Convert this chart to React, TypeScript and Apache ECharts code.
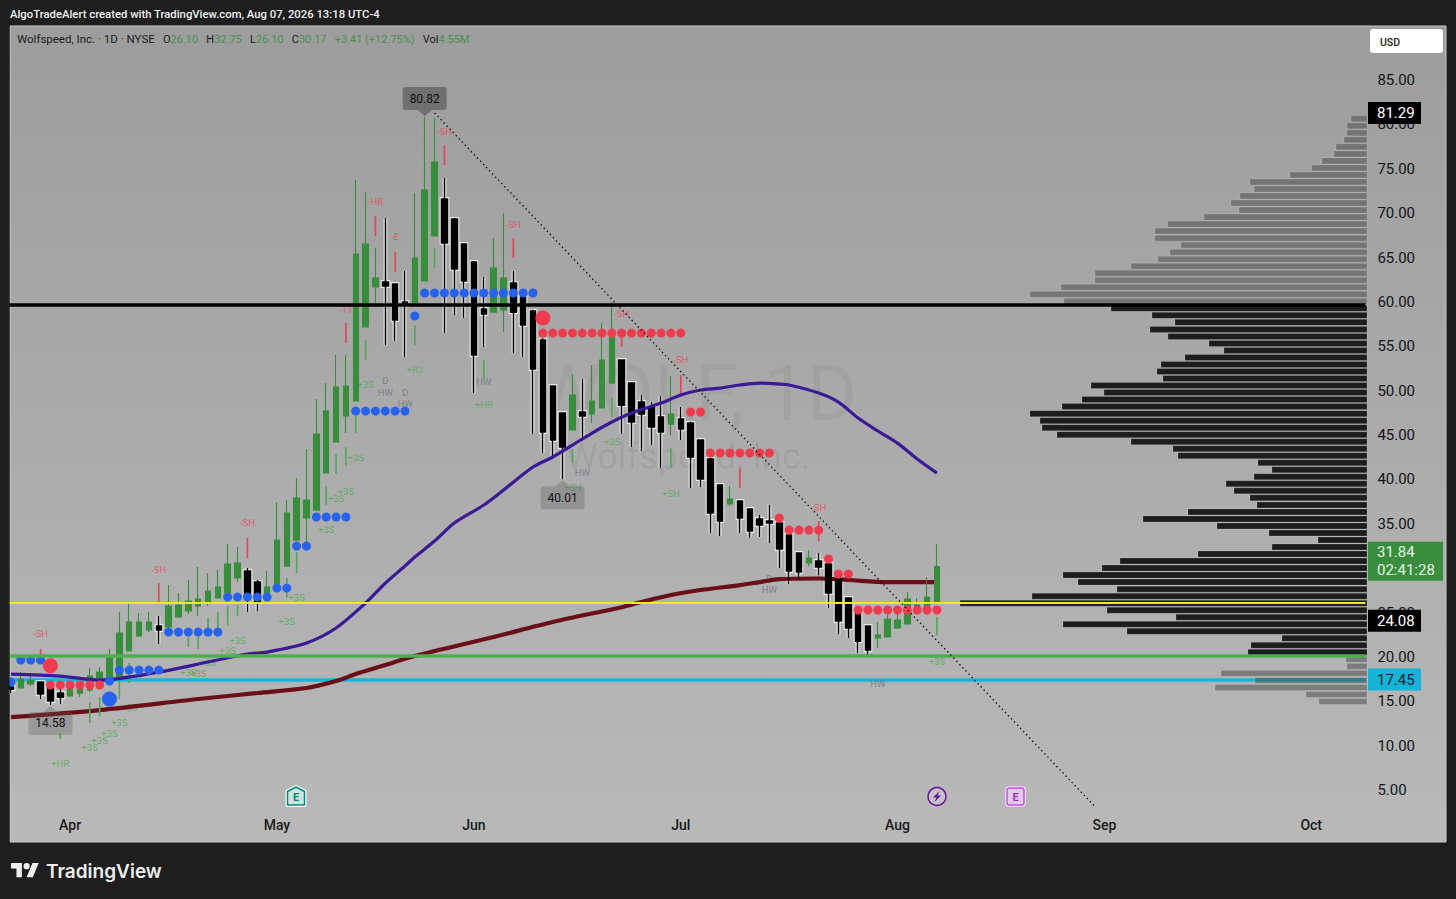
import React, { useEffect, useRef } from "react";
import * as echarts from "echarts";

// ---- categories (trading-day slots) and month ticks ----
const SLOT_COUNT = 138;
const monthTicks: Record<number, string> = { 6: "Apr", 27: "May", 47: "Jun", 68: "Jul", 90: "Aug", 111: "Sep", 132: "Oct" };
const categories = Array.from({ length: SLOT_COUNT }, (_, i) => monthTicks[i] ?? "");

// ---- daily candles: open, close, low, high ----
const candles: number[][] = [
  [16.6, 16.37, 15.92, 17.05], [16.49, 17.5, 16.49, 18.29], [16.94, 17.39, 16.71, 18.17], [17.16, 15.81, 15.25, 17.2], [16.6, 15.02, 14.58, 16.65],
  [15.92, 15.47, 14.7, 16.49], [15.59, 16.6, 15.5, 17.05], [15.92, 16.6, 15.47, 17.05], [16.26, 17.84, 16.04, 18.74], [16.94, 18.29, 16.71, 18.85],
  [17.61, 19.87, 17.39, 20.88], [17.73, 22.69, 17.6, 25.05], [20.66, 23.93, 20.66, 25.95], [22.35, 23.93, 22.24, 24.94], [23.03, 23.93, 22.8, 25.05],
  [23.47, 23.03, 21.45, 24.6], [23.36, 25.73, 23.25, 28.09], [24.49, 25.84, 24.38, 27.19], [25.17, 26.29, 24.83, 28.66], [25.73, 26.52, 24.6, 30.12],
  [26.18, 27.42, 25.73, 29.45], [26.63, 27.87, 26.63, 29.78], [27.19, 30.46, 26.97, 32.71], [28.88, 30.57, 28.43, 32.37], [29.67, 26.74, 25.05, 30.01],
  [28.43, 26.18, 25.17, 28.66], [27.19, 27.87, 26.4, 29.67], [27.53, 33.16, 27.3, 37.45], [30.23, 36.21, 30.23, 37.67], [33.16, 37.9, 33.1, 40.15],
  [35.64, 37.67, 32.37, 43.42], [36.54, 45.11, 36.4, 49.05], [40.71, 47.7, 40.7, 50.85], [44.21, 50.4, 44.2, 54.01], [47.14, 50.52, 45.22, 54.01],
  [48.83, 65.39, 48.8, 73.73], [57.17, 66.52, 57.1, 72.38], [61.67, 62.69, 59.87, 66.07], [62.24, 61.79, 55.13, 69.45], [62.01, 57.95, 55.59, 62.1],
  [59.98, 59.65, 53.79, 63.48], [59.87, 64.94, 59.5, 72.26], [62.35, 72.6, 62.3, 80.82], [67.42, 75.76, 67.4, 80.72], [71.59, 66.63, 56.49, 73.95],
  [69.33, 63.7, 58.52, 69.45], [66.52, 62.35, 58.18, 66.6], [64.49, 54.01, 49.73, 64.6], [59.19, 58.63, 54.91, 62.8], [58.85, 63.81, 58.8, 67.19],
  [59.08, 62.69, 56.6, 70.01], [62.13, 58.85, 54.24, 63.48], [60.55, 57.39, 53.79, 60.77], [58.97, 52.43, 45.11, 59.1], [55.7, 45.33, 42.97, 55.9],
  [50.52, 44.43, 42.29, 50.6], [47.47, 43.64, 40.01, 47.5], [45.56, 49.5, 45.5, 51.87], [47.59, 47.14, 44.66, 51.3], [47.36, 48.83, 46.35, 52.88],
  [48.04, 53.45, 48.0, 57.62], [50.85, 56.26, 50.8, 59.98], [53.45, 48.37, 45.11, 53.5], [50.85, 46.46, 43.64, 50.9], [48.71, 47.36, 43.19, 49.5],
  [48.15, 45.9, 43.87, 48.71], [47.02, 45.33, 41.27, 49.39], [46.23, 47.36, 45.0, 51.64], [46.8, 45.67, 44.43, 48.15], [46.35, 42.52, 39.02, 46.5],
  [44.43, 40.04, 39.14, 44.5], [42.29, 36.21, 33.95, 42.4], [39.36, 35.31, 33.62, 39.4], [37.22, 37.78, 36.99, 39.25], [37.56, 35.64, 33.95, 37.6],
  [36.66, 34.18, 33.39, 36.7], [35.53, 34.86, 33.5, 35.98], [35.3, 35.08, 32.82, 37.11], [35.08, 32.15, 30.01, 35.1], [33.73, 29.67, 28.2, 33.8],
  [31.7, 29.56, 28.77, 31.8], [30.57, 31.14, 30.23, 32.04], [30.8, 30.12, 29.22, 31.7], [30.46, 27.19, 25.5, 30.5], [28.77, 24.04, 22.57, 28.8],
  [26.63, 23.25, 22.12, 26.7], [24.94, 21.78, 20.43, 25.0], [23.47, 20.77, 20.21, 23.5], [22.12, 22.46, 20.99, 23.93], [22.24, 24.26, 22.2, 24.71],
  [23.25, 24.15, 23.14, 25.28], [23.7, 26.52, 23.7, 27.31], [24.94, 25.84, 24.9, 26.63], [25.05, 26.74, 25.0, 28.99], [26.1, 30.17, 26.1, 32.75],
];

// ---- moving averages: [day, price] ----
const purpleMA: number[][] = [
  [0, 18.06], [5, 17.84], [9, 17.39], [15, 18.29], [20, 19.42], [24, 20.32], [26, 20.54], [30, 21.56], [33, 23.25], [36, 26.07], [38, 28.3], [40, 30.24],
  [41, 31.25], [43, 33.05], [45, 35.08], [48, 37.11], [50, 38.8], [53, 41.39], [55, 42.52], [57, 43.87], [59, 45.22], [61, 46.46], [63, 47.47], [66, 48.6],
  [68, 49.5], [70, 50.07], [72, 50.29], [74, 50.63], [76, 50.85], [78, 50.74], [79, 50.63], [82, 49.73], [84, 48.71], [86, 46.91], [88, 45.45],
  [90, 44.09], [92, 42.29], [94, 40.71],
];
const maroonMA: number[][] = [
  [0, 13.22], [9, 14.01], [19, 15.25], [25, 15.93], [30, 16.49], [33, 17.27], [35, 18.06], [38, 19.08], [41, 20.09], [49, 22.24], [55, 23.93], [62, 25.6],
  [64, 26.18], [67, 26.97], [70, 27.53], [74, 28.09], [76, 28.43], [78, 28.77], [82, 28.83], [85, 28.66], [89, 28.43], [94, 28.43],
];
const trendLine: number[][] = [[43, 81.29], [110, 3.19]];

// ---- horizontal levels ----
const levelBlack = 59.7;
const levelYellow = 26.07;
const levelGreen = 20.1;
const levelCyan = 17.45;

// ---- trailing stop dots: price and the days they sit on ----
const blueDots: [number, number[]][] = [
  [19.64, [1, 2, 3]], [17.16, [0]], [17.27, [10]], [18.51, [11, 12, 13, 14, 15]], [22.8, [16, 17, 18, 19, 20, 21]],
  [26.74, [22, 23, 24, 25, 26]], [27.75, [27, 28]], [32.49, [29, 30]], [35.76, [31, 32, 33, 34]], [47.7, [35, 36, 37, 38, 39, 40]],
  [58.41, [41]], [61.0, [42, 43, 44, 45, 46, 47, 48, 49, 50, 51, 52, 53]],
];
const redDots: [number, number[]][] = [
  [16.83, [4, 5, 6, 7, 8, 9]], [56.49, [54, 55, 56, 57, 58, 59, 60, 61, 62, 63, 64, 65, 66, 67, 68]], [47.59, [69, 70]],
  [42.97, [71, 72, 73, 74, 75, 76, 77]], [35.65, [78]], [34.29, [79, 80, 81, 82]], [31.03, [83]], [29.34, [84, 85]],
  [25.28, [86, 87, 88, 89, 90, 91, 92, 93, 94]],
];
const bigBlueDots = [[10, 15.25]];
const bigRedDots = [[4, 19.0], [54, 58.18]];

// ---- signal ticks: day, upper price, lower price ----
const redTicks: number[][] = [
  [3, 20.88, 19.64], [15, 28.32, 26.18], [24, 33.39, 31.14], [34, 57.62, 55.36], [37, 69.67, 67.42], [39, 65.62, 63.36],
  [44, 77.67, 75.42], [51, 67.19, 64.94], [62, 56.49, 54.91], [68, 51.76, 49.62], [74, 41.28, 39.02], [82, 35.31, 33.05],
];
const greenTicks: number[][] = [
  [5, 11.42, 10.74], [8, 14.91, 12.55], [9, 15.47, 13.33], [11, 17.39, 15.25], [12, 19.31, 17.05], [18, 22.24, 21.11], [19, 22.24, 20.88],
  [20, 24.38, 22.8], [21, 25.05, 22.8], [22, 25.73, 23.47], [23, 25.84, 24.6], [28, 28.88, 26.63], [29, 31.81, 29.45], [32, 39.25, 37.11],
  [33, 42.86, 40.6], [34, 43.64, 41.5], [35, 47.14, 45.22], [36, 55.7, 53.45], [41, 57.39, 55.13], [43, 66.07, 63.81], [48, 53.45, 51.3],
  [57, 43.42, 41.84], [61, 49.28, 47.02], [67, 43.53, 41.28], [94, 24.49, 22.46],
];

// ---- signal texts: day, price, text ----
const redTexts: [number, number, string][] = [
  [3, 22.58, "-SH"], [15, 29.9, "-SH"], [24, 35.19, "-SH"], [34, 59.19, "-TT"], [37, 71.36, "-HR"], [39, 67.31, "-E"], [44, 79.25, "-SH"],
  [51, 68.77, "-SH"], [62, 58.74, "-SH"], [68, 53.56, "-SH"], [82, 36.88, "-SH"],
];
const greenTexts: [number, number, string][] = [
  [5, 8.04, "+HR"], [8, 9.84, "+3S"], [9, 10.63, "+3S"], [10, 11.31, "+3S"], [11, 12.55, "+3S"], [12, 14.35, "+3S"], [18, 18.29, "+3S"], [19, 18.18, "+3S"],
  [20, 19.42, "+3S"], [22, 20.77, "+3S"], [23, 21.9, "+3S"], [28, 23.93, "+3S"], [29, 26.74, "+3S"], [32, 34.4, "+3S"], [33, 37.9, "+3S"], [34, 38.68, "+3S"],
  [35, 42.52, "+3S"], [36, 50.74, "+3S"], [41, 52.43, "+R3"], [48, 48.49, "+HR"], [61, 44.32, "+3S"], [57, 39.14, "+SH"], [67, 38.46, "+SH"], [94, 19.53, "+3S"],
];
const grayTexts: [number, number, string][] = [
  [38, 51.19, "D"], [38, 49.84, "HW"], [40, 49.84, "D"], [40, 48.6, "HW"], [48, 51.08, "HW"], [58, 40.72, "HW"], [77, 28.88, "D"], [77, 27.64, "HW"], [88, 17.05, "HW"],
];

// ---- swing high / low call-outs ----
const extremes: { day: number; price: number; text: string; above: boolean }[] = [
  { day: 42, price: 80.82, text: "80.82", above: true },
  { day: 56, price: 40.01, text: "40.01", above: false },
  { day: 4, price: 14.58, text: "14.58", above: false },
];

// ---- visible-range volume profile, top row first ----
const profileTopPrice = 80.63;
const profileRowStep = 0.791;
const profileUpper = [16, 20, 20, 23, 31, 33, 45, 55, 77, 117, 113, 127, 136, 128, 163, 199, 212, 212, 186, 197, 209, 236, 272, 272, 306, 337, 303];
const profileValueArea = [
  256, 215, 192, 217, 199, 158, 143, 182, 206, 210, 204, 276, 263, 285, 305, 337, 327, 325, 310, 236, 194, 189, 109, 95, 113, 141, 133, 117, 110,
  179, 224, 150, 98, 49, 95, 169, 247, 265, 304, 289, 250, 335, 407, 260, 191, 304, 240, 85, 116, 119,
];
const profileLower = [21, 20, 146, 112, 152, 61, 48];

// ---- price-scale tags ----
const priceTags: { value: number; lines: string[]; bg: string; fg: string; wide: boolean }[] = [
  { value: 81.29, lines: ["81.29"], bg: "#000000", fg: "#ffffff", wide: false },
  { value: 31.84, lines: ["31.84", "02:41:28"], bg: "#388e3c", fg: "#e8f5e9", wide: true },
  { value: 24.08, lines: ["24.08"], bg: "#000000", fg: "#ffffff", wide: false },
  { value: 17.45, lines: ["17.45"], bg: "#17b3d6", fg: "#10252b", wide: false },
];

const FONT = "Roboto, sans-serif";
const SLOT = 9.85;
const GRID_LEFT = 6.075;
const GRID_TOP = 35.625;
const PX_PER_PRICE = 8.875;
const PLOT_RIGHT = 1367;

const GREEN = "#388e3c";
const RED = "#ef3b4e";
const BLUE = "#2762ee";

const expand = (rows: [number, number[]][]) => rows.flatMap(([p, days]) => days.map((d) => [d, p]));
const asRows = (pick: (c: number[]) => boolean) =>
  candles.map((c, i) => [i, ...c]).filter((r) => pick(r.slice(1)));

function tickSeries(rows: number[][], color: string) {
  return {
    type: "custom",
    silent: true,
    z: 5,
    data: rows,
    renderItem: (_: any, api: any) => {
      const a = api.coord([api.value(0), api.value(1)]);
      const b = api.coord([api.value(0), api.value(2)]);
      return { type: "line", shape: { x1: a[0], y1: a[1], x2: b[0], y2: b[1] }, style: { stroke: color, lineWidth: 1.6 } };
    },
  };
}

function textSeries(rows: [number, number, string][], color: string) {
  return {
    type: "scatter",
    silent: true,
    z: 2.5,
    symbolSize: 1,
    itemStyle: { color: "rgba(0,0,0,0)" },
    data: rows.map((r) => ({ value: [r[0], r[1]], name: r[2] })),
    label: { show: true, position: "inside", formatter: "{b}", color, fontFamily: FONT, fontSize: 9.5 },
  };
}

function dotSeries(data: number[][], color: string, size: number) {
  return { type: "scatter", silent: true, z: 6, symbolSize: size, itemStyle: { color, opacity: 1 }, data };
}

function levelSeries(levels: [number, string, number][], z: number) {
  return {
    type: "line",
    silent: true,
    data: [],
    markLine: {
      silent: true,
      animation: false,
      symbol: "none",
      z,
      label: { show: false },
      data: levels.map(([yAxis, color, width]) => ({ yAxis, lineStyle: { color, width, type: "solid" } })),
    },
  };
}

const profileRows = [...profileUpper, ...profileValueArea, ...profileLower].map((vol, i) => [vol, profileTopPrice - i * profileRowStep, i]);

function buildOption() {
  const plotBg = new echarts.graphic.LinearGradient(0, 0, 0, 1, [
    { offset: 0, color: "#9d9d9d" },
    { offset: 1, color: "#b9b9b9" },
  ]);
  const gridWidth = SLOT * SLOT_COUNT;
  return {
    animation: false,
    backgroundColor: "#1e1e1e",
    grid: { left: GRID_LEFT, top: GRID_TOP, width: gridWidth, height: PX_PER_PRICE * 90, containLabel: false },
    xAxis: [
      {
        type: "category",
        data: categories,
        boundaryGap: true,
        axisLine: { show: false },
        axisTick: { show: false },
        splitLine: { show: false },
        axisLabel: { show: true, inside: true, interval: 0, margin: 2, color: "#1a1a1a", fontFamily: FONT, fontSize: 14, fontWeight: 500 },
      },
      { type: "value", show: false, min: 0, max: gridWidth, inverse: true, splitLine: { show: false } },
    ],
    yAxis: {
      type: "value",
      position: "right",
      min: 0,
      max: 90,
      interval: 5,
      axisLine: { show: false },
      axisTick: { show: false },
      splitLine: { show: false },
      axisLabel: {
        margin: 12,
        color: "#141414",
        fontFamily: FONT,
        fontSize: 15,
        formatter: (v: number) => (v < 5 || v > 85 ? "" : v.toFixed(2)),
      },
    },
    graphic: [
      { type: "rect", z: -1, silent: true, shape: { x: 10, y: 26, width: 1436, height: 816 }, style: { fill: plotBg, stroke: "#c9c9c9", lineWidth: 1 } },
      { type: "text", z: 0, silent: true, style: { x: 695, y: 394, text: "WOLF, 1D", align: "center", verticalAlign: "middle", fontFamily: FONT, fontSize: 77, fill: "rgba(0,0,0,0.045)" } },
      { type: "text", z: 0, silent: true, style: { x: 688, y: 457, text: "Wolfspeed, Inc.", align: "center", verticalAlign: "middle", fontFamily: FONT, fontSize: 36, fill: "rgba(0,0,0,0.06)" } },
      { type: "rect", z: 50, silent: true, shape: { x: 0, y: 0, width: 9.5, height: 899 }, style: { fill: "#1e1e1e" } },
      { type: "text", z: 60, silent: true, style: { x: 10, y: 14, text: "AlgoTradeAlert created with TradingView.com, Aug 07, 2026 13:18 UTC-4", verticalAlign: "middle", fontFamily: FONT, fontSize: 11.3, fontWeight: 500, fill: "#f0f0f0" } },
      {
        type: "text",
        z: 60,
        silent: true,
        style: {
          x: 17,
          y: 39,
          verticalAlign: "middle",
          fontFamily: FONT,
          fontSize: 11,
          text: "{n|Wolfspeed, Inc. · 1D · NYSE}   {k|O}{v|26.10}   {k|H}{v|32.75}   {k|L}{v|26.10}   {k|C}{v|30.17}   {v|+3.41 (+12.75%)}   {k|Vol}{v|4.55M}",
          rich: {
            n: { fill: "#1b1b1b", fontFamily: FONT, fontSize: 11.5 },
            k: { fill: "#1b1b1b", fontFamily: FONT, fontSize: 11 },
            v: { fill: "#4a8f4e", fontFamily: FONT, fontSize: 11 },
          },
        },
      },
      { type: "rect", z: 60, silent: true, shape: { x: 1370, y: 29, width: 73, height: 24, r: 3 }, style: { fill: "#ffffff" } },
      { type: "text", z: 61, silent: true, style: { x: 1380, y: 42, text: "USD", verticalAlign: "middle", fontFamily: FONT, fontSize: 10.5, fontWeight: 500, fill: "#222" } },
      { type: "polygon", z: 60, silent: true, shape: { points: [[296, 787], [304.5, 791.5], [304.5, 805], [287.5, 805], [287.5, 791.5]] }, style: { fill: "#d6e6e3", stroke: "#ffffff", lineWidth: 4, lineJoin: "round" } },
      { type: "polygon", z: 61, silent: true, shape: { points: [[296, 787], [304.5, 791.5], [304.5, 805], [287.5, 805], [287.5, 791.5]] }, style: { fill: "#cfe3df", stroke: "#00897b", lineWidth: 1.5, lineJoin: "round" } },
      { type: "text", z: 62, silent: true, style: { x: 296, y: 797, text: "E", align: "center", verticalAlign: "middle", fontFamily: FONT, fontSize: 11, fontWeight: 700, fill: "#00897b" } },
      { type: "circle", z: 60, silent: true, shape: { cx: 937, cy: 796.5, r: 10 }, style: { fill: "#ffffff" } },
      { type: "circle", z: 61, silent: true, shape: { cx: 937, cy: 796.5, r: 9 }, style: { fill: "#c7c0cc", stroke: "#5e1a8c", lineWidth: 1.6 } },
      { type: "polygon", z: 62, silent: true, shape: { points: [[939.5, 791], [933, 797.5], [936.5, 797.5], [934.5, 802], [941, 795.5], [937.5, 795.5]] }, style: { fill: "#5e1a8c" } },
      { type: "rect", z: 60, silent: true, shape: { x: 1005.5, y: 786.5, width: 20, height: 20, r: 3 }, style: { fill: "#ffffff" } },
      { type: "rect", z: 61, silent: true, shape: { x: 1007, y: 788, width: 17, height: 17, r: 2 }, style: { fill: "#e2cbe9", stroke: "#cf45ea", lineWidth: 1.5 } },
      { type: "text", z: 62, silent: true, style: { x: 1015.5, y: 797, text: "E", align: "center", verticalAlign: "middle", fontFamily: FONT, fontSize: 11, fontWeight: 700, fill: "#a32bc4" } },
      { type: "tvlogo", z: 60, silent: true, x: 11, y: 860, scaleX: 0.78, scaleY: 0.78, style: { fill: "#eeeeee" } },
      { type: "text", z: 60, silent: true, style: { x: 46, y: 871, text: "TradingView", verticalAlign: "middle", fontFamily: "Inter, sans-serif", fontSize: 19, fontWeight: 600, fill: "#eeeeee" } },
    ],
    series: [
      levelSeries([[levelCyan, "#17b6d8", 3.5]], 2),
      textSeries(redTexts, "#e8485a"),
      textSeries(greenTexts, "#4fa855"),
      textSeries(grayTexts, "#6d7480"),
      {
        type: "candlestick",
        silent: true,
        z: 3,
        barWidth: 6,
        encode: { x: 0, y: [1, 2, 3, 4] },
        itemStyle: { color: "#ffffff", color0: "#ffffff", borderColor: "#ffffff", borderColor0: "#ffffff", borderWidth: 3.6 },
        data: asRows((c) => c[1] < c[0]),
      },
      { type: "line", silent: true, z: 3.5, smooth: 0.3, showSymbol: false, lineStyle: { color: "#6a0f18", width: 4.2 }, data: maroonMA },
      {
        type: "candlestick",
        silent: true,
        z: 4,
        barWidth: 6,
        encode: { x: 0, y: [1, 2, 3, 4] },
        itemStyle: { color: "#000000", color0: "#000000", borderColor: "#000000", borderColor0: "#000000", borderWidth: 1.6 },
        data: asRows((c) => c[1] < c[0]),
      },
      {
        type: "candlestick",
        silent: true,
        z: 4,
        barWidth: 6,
        encode: { x: 0, y: [1, 2, 3, 4] },
        itemStyle: { color: GREEN, color0: GREEN, borderColor: GREEN, borderColor0: GREEN, borderWidth: 1.1 },
        data: asRows((c) => c[1] >= c[0]),
      },
      tickSeries(redTicks, "#e8405a"),
      tickSeries(greenTicks, "#4fa855"),
      { type: "line", silent: true, z: 5, smooth: 0.3, showSymbol: false, lineStyle: { color: "#3b1a96", width: 3.2 }, data: purpleMA },
      dotSeries(expand(blueDots), BLUE, 9),
      dotSeries(expand(redDots), RED, 9),
      dotSeries(bigBlueDots, BLUE, 15),
      dotSeries(bigRedDots, RED, 15),
      {
        type: "custom",
        silent: true,
        z: 6,
        xAxisIndex: 1,
        data: profileRows,
        renderItem: (_: any, api: any) => {
          const vol = api.value(0);
          const price = api.value(1);
          const row = api.value(2);
          const p = api.coord([vol, price]);
          const upperEnd = profileUpper.length;
          const lowerStart = upperEnd + profileValueArea.length;
          const dark = row >= upperEnd && row < lowerStart;
          return {
            type: "rect",
            shape: { x: PLOT_RIGHT - vol, y: p[1] - 3, width: vol, height: 6 },
            style: { fill: dark ? "rgba(24,24,24,0.97)" : "rgba(70,70,70,0.5)", stroke: "rgba(240,240,240,0.35)", lineWidth: 0.5 },
          };
        },
      },
      levelSeries([[levelBlack, "#000000", 3.5], [levelYellow, "#f2e53a", 2], [levelGreen, "#4caf50", 3.5]], 7),
      { type: "line", silent: true, z: 8, showSymbol: false, lineStyle: { color: "#111111", width: 1.4, type: [1.4, 3] }, data: trendLine },
      {
        type: "custom",
        silent: true,
        z: 10,
        clip: false,
        data: extremes.map((e) => [e.day, e.price]),
        renderItem: (params: any, api: any) => {
          const e = extremes[params.dataIndex];
          const [cx, tip] = api.coord([e.day, e.price]);
          const x0 = cx - 22;
          const top = e.above ? tip - 30 : tip + 7;
          const baseY = e.above ? top + 23 : top;
          const tipY = e.above ? tip - 1 : tip + 1;
          const fill = e.above ? "rgba(64,64,64,0.5)" : "rgba(90,90,90,0.3)";
          return {
            type: "group",
            children: [
              { type: "rect", shape: { x: x0, y: top, width: 44, height: 23, r: 3 }, style: { fill } },
              { type: "polygon", shape: { points: [[cx - 7, baseY], [cx + 7, baseY], [cx, tipY]] }, style: { fill } },
              { type: "text", style: { x: cx, y: top + 11.5, text: e.text, align: "center", verticalAlign: "middle", fontFamily: FONT, fontSize: 12, fill: "#101010" } },
            ],
          };
        },
      },
      {
        type: "custom",
        silent: true,
        z: 11,
        clip: false,
        data: priceTags.map((t) => [0, t.value]),
        renderItem: (params: any, api: any) => {
          const t = priceTags[params.dataIndex];
          const y = api.coord([0, t.value])[1];
          const two = t.lines.length > 1;
          const top = two ? y - 10 : y - 11;
          const h = two ? 39 : 22;
          const w = t.wide ? 75 : 53;
          const children: any[] = [{ type: "rect", shape: { x: PLOT_RIGHT + 1, y: top, width: w, height: h }, style: { fill: t.bg } }];
          t.lines.forEach((line, k) => {
            children.push({
              type: "text",
              style: { x: PLOT_RIGHT + 10, y: two ? top + 10.5 + k * 18 : top + 11, text: line, verticalAlign: "middle", fontFamily: FONT, fontSize: 15, fill: t.fg },
            });
          });
          return { type: "group", children };
        },
      },
    ],
  };
}

echarts.graphic.registerShape(
  "tvlogo",
  echarts.graphic.extendPath("M14 22H7V11H0V4h14v18ZM28 22h-8l7.5-18h8L28 22ZM16 8a4 4 0 1 0 8 0a4 4 0 1 0 -8 0Z", {}) as any
);

export default function App() {
  const ref = useRef<HTMLDivElement>(null);
  useEffect(() => {
    document.body.style.margin = "0";
    document.body.style.background = "#1e1e1e";
    const chart = echarts.init(ref.current!, undefined, { renderer: "svg", width: 1456, height: 899 });
    chart.setOption(buildOption() as any);
    return () => chart.dispose();
  }, []);
  return <div ref={ref} style={{ width: 1456, height: 899 }} />;
}
